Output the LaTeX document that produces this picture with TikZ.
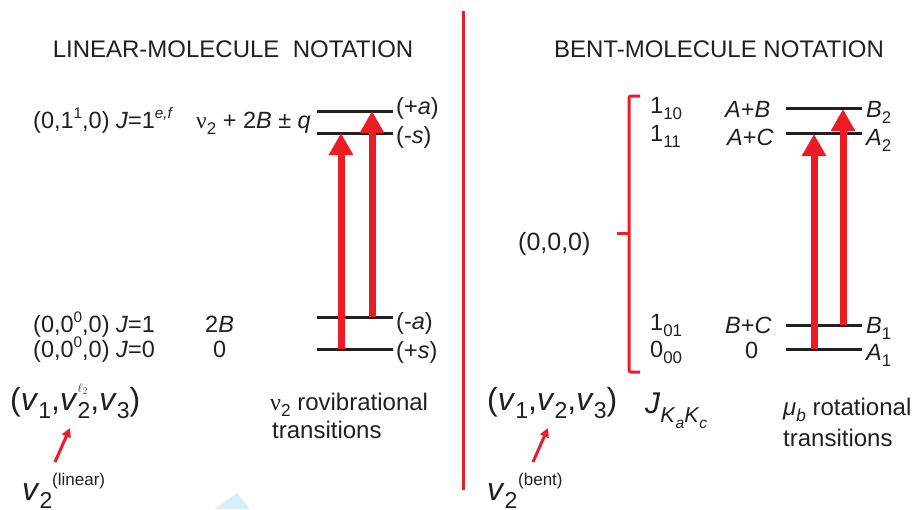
\documentclass[tikz,border=0pt]{standalone}
\usepackage{fontspec}
\usepackage{graphicx}
\setmainfont{Liberation Sans}
\newfontfamily\nufont{Liberation Serif}
\usetikzlibrary{arrows.meta,positioning}
\definecolor{ink}{RGB}{35,31,32}
\definecolor{trred}{RGB}{237,28,36}
\definecolor{paleblue}{RGB}{214,238,251}
\newcommand\up[1]{\raisebox{0.42em}{\scalebox{0.65}{#1}}}
\newcommand\dn[1]{\raisebox{-0.28em}{\scalebox{0.72}{#1}}}

\begin{document}
\begin{tikzpicture}[x=1pt,y=-1pt,
  lbl/.style={inner sep=0pt, anchor=base west, text=ink, font=\fontsize{23.5}{27}\selectfont},
  title/.style={lbl, anchor=base, font=\fontsize{24}{28}\selectfont},
  big/.style={lbl, font=\fontsize{32}{36}\selectfont},
  small/.style={lbl, font=\fontsize{17}{20}\selectfont},
  note/.style={lbl, font=\fontsize{24}{28}\selectfont},
  level/.style={draw=ink, line width=3pt},
  trans/.style={draw=trred, line width=7pt, -{Triangle[width=23pt,length=22pt]}},
  ptr/.style={draw=trred, line width=3pt, -{Triangle[width=9pt,length=9pt]}},
  bar/.style={draw=trred, line width=3pt}]
  \useasboundingbox (0,0) rectangle (918,509);
  \fill[paleblue] (215,509) -- (237,493) -- (250,509) -- cycle;

  \node[title] (lintitle) at (233,57) {LINEAR-MOLECULE\ \ NOTATION};
  \node[title] (benttitle) at (719,57) {BENT-MOLECULE NOTATION};

  \coordinate (divt) at (463,11);
  \coordinate (divb) at (463,490);
  \draw[bar] (divt) -- (divb);

  % linear molecule levels
  \foreach \n/\y in {pa/111, ms/133, ma/317, ps/349} {
    \coordinate (\n w) at (317,\y);
    \coordinate (\n e) at (393,\y);
    \draw[level] (\n w) -- (\n e);
  }
  \coordinate (lt1s) at (341,349);
  \coordinate (lt1e) at (341,133);
  \coordinate (lt2s) at (372,317);
  \coordinate (lt2e) at (372,111);
  \draw[trans] (lt1s) -- (lt1e);
  \draw[trans] (lt2s) -- (lt2e);

  \node[lbl] (st1) at (33,128) {(0,1\up{1},0) \textit{J}=1\up{\textit{e,f}}};
  \node[lbl] (en1) at (196,128) {{\nufont ν}\dn{2} + 2\textit{B} ± \textit{q}};
  \node[lbl] (st01) at (33,332) {(0,0\up{0},0) \textit{J}=1};
  \node[lbl] (en01) at (205,332) {2\textit{B}};
  \node[lbl] (st00) at (33,357) {(0,0\up{0},0) \textit{J}=0};
  \node[lbl] (en00) at (213,357) {0};
  \node[lbl] (sympa) at (396,114) {(+\textit{a})};
  \node[lbl] (symms) at (396,143) {(-\textit{s})};
  \node[lbl] (symma) at (396,329) {(-\textit{a})};
  \node[lbl] (symps) at (396,358) {(+\textit{s})};

  \node[big] (vlin) at (10,410) {(\textit{v}\dn{1},\textit{v}\rlap{\raisebox{0.55em}{\scalebox{0.5}{$\ell_2$}}}\dn{2},\textit{v}\dn{3})};
  \node[big] (vtwolin) at (22,500) {\textit{v}\dn{2}};
  \node[small] (linw) at (52,485) {(linear)};
  \coordinate (plt) at (55,462);
  \coordinate (plh) at (70,428);
  \draw[ptr] (plt) -- (plh);

  \node[note] (rovib) at (270,410) {{\nufont ν}\dn{2} rovibrational};
  \node[note] (rovibt) at (272,438) {transitions};

  % bent molecule levels
  \foreach \n/\y in {btwo/108, atwo/133, bone/325, aone/349} {
    \coordinate (\n w) at (786,\y);
    \coordinate (\n e) at (862,\y);
    \draw[level] (\n w) -- (\n e);
  }
  \coordinate (bt1s) at (814,349);
  \coordinate (bt1e) at (814,134);
  \coordinate (bt2s) at (843,325);
  \coordinate (bt2e) at (843,109);
  \draw[trans] (bt1s) -- (bt1e);
  \draw[trans] (bt2s) -- (bt2e);

  \coordinate (brtr) at (640,96);
  \coordinate (brtl) at (629,96);
  \coordinate (brbl) at (629,372);
  \coordinate (brbr) at (640,372);
  \coordinate (brm) at (629,233);
  \coordinate (brt) at (617,233);
  \draw[bar, rounded corners=2pt] (brtr) -- (brtl) -- (brbl) -- (brbr);
  \draw[bar] (brm) -- (brt);
  \node[lbl, font=\fontsize{25}{29}\selectfont] (gs) at (518,250) {(0,0,0)};

  \node[lbl] (jten) at (650,113) {1\dn{10}};
  \node[lbl] (jtel) at (650,141) {1\dn{11}};
  \node[lbl] (jozo) at (650,330) {1\dn{01}};
  \node[lbl] (jzzz) at (650,357) {0\dn{00}};
  \node[lbl] (eab) at (725,117) {\textit{A}+\textit{B}};
  \node[lbl] (eac) at (727,145) {\textit{A}+\textit{C}};
  \node[lbl] (ebc) at (725,333) {\textit{B}+\textit{C}};
  \node[lbl] (ezero) at (745,358) {0};
  \node[lbl] (symbtwo) at (866,117) {\textit{B}\dn{2}};
  \node[lbl] (symatwo) at (866,145) {\textit{A}\dn{2}};
  \node[lbl] (symbone) at (866,333) {\textit{B}\dn{1}};
  \node[lbl] (symaone) at (866,360) {\textit{A}\dn{1}};

  \node[big] (vbent) at (487,410) {(\textit{v}\dn{1},\textit{v}\dn{2},\textit{v}\dn{3})};
  \node[lbl, font=\fontsize{30}{34}\selectfont] (jkk) at (645,413) {\textit{J}\raisebox{-0.3em}{\scalebox{0.72}{\textit{K}\dn{\textit{a}}\textit{K}\dn{\textit{c}}}}};
  \node[big] (vtwobent) at (487,500) {\textit{v}\dn{2}};
  \node[small] (bentw) at (518,485) {(bent)};
  \coordinate (pbt) at (533,462);
  \coordinate (pbh) at (548,428);
  \draw[ptr] (pbt) -- (pbh);

  \node[note] (murot) at (783,415) {\textit{μ}\dn{\textit{b}} rotational};
  \node[note] (murott) at (783,446) {transitions};
\end{tikzpicture}
\end{document}
